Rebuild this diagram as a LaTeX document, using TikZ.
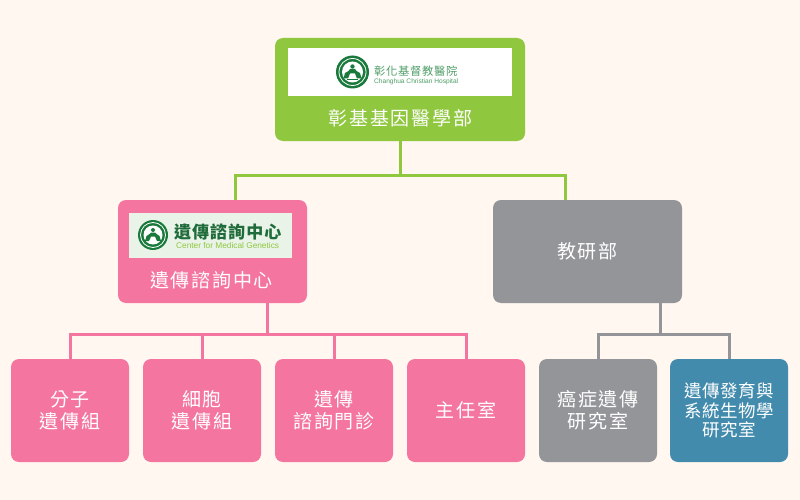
\documentclass[tikz,border=0pt]{standalone}
\usepackage{fontspec}
\setmainfont{Liberation Sans}
\newfontfamily\cjk[LetterSpace=9]{Noto Sans CJK TC}
\newfontfamily\cjkteal[LetterSpace=3]{Noto Sans CJK TC}
\newfontfamily\cjklogo[LetterSpace=6]{Noto Sans CJK TC}
\definecolor{bgc}{HTML}{FFF7F0}
\definecolor{greenc}{HTML}{8FC73E}
\definecolor{pinkc}{HTML}{F476A0}
\definecolor{grayc}{HTML}{939598}
\definecolor{tealc}{HTML}{428BAD}
\definecolor{logod}{HTML}{1A7A3C}
\definecolor{logot}{HTML}{4E9E68}
\definecolor{logob}{HTML}{1F6B3A}
\definecolor{logopale}{HTML}{E9F3E8}
\tikzset{
  x=1pt,y=-1pt,
  box/.style={rectangle,inner sep=0pt,rounded corners=8pt,text=white,align=center,font=\cjk\fontsize{19}{22}\selectfont},
  big/.style={box,minimum width=189pt,minimum height=103pt},
  small/.style={box,minimum width=118pt,minimum height=103pt},
  conn/.style={line width=3pt},
  label/.style={text=white,inner sep=0pt,font=\cjk\fontsize{19}{22}\selectfont},
  logobox/.style={rectangle,inner sep=0pt},
  logoring/.style={circle,inner sep=0pt,fill=logod},
  logotxt/.style={inner sep=0pt,anchor=west},
}
\begin{document}
\begin{tikzpicture}
\useasboundingbox (0,0) rectangle (800,500);
\fill[bgc] (0,0) rectangle (800,500);
\coordinate (jtop) at (400,175);
\coordinate (jp) at (235,200);
\coordinate (jg) at (565,200);
\coordinate (jpink) at (267,334);
\coordinate (jgray) at (660,334);
\node[box,fill=greenc,minimum width=250pt,minimum height=103pt] (top) at (400,89.5) {};
\node[big,fill=pinkc] (center) at (212.5,251.5) {};
\node[big,fill=grayc] (edu) at (587.5,251.5) {教研部};
\node[small,fill=pinkc] (c1) at (70,410.5) {分子\\遺傳組};
\node[small,fill=pinkc] (c2) at (202,410.5) {細胞\\遺傳組};
\node[small,fill=pinkc] (c3) at (334,410.5) {遺傳\\諮詢門診};
\node[small,fill=pinkc] (c4) at (466,410.5) {主任室};
\node[small,fill=grayc] (g1) at (598,410.5) {癌症遺傳\\研究室};
\node[small,fill=tealc,font=\cjkteal\fontsize{17.5}{19.5}\selectfont] (g2) at (729,410.5) {遺傳發育與\\系統生物學\\研究室};
\draw[conn,greenc] (top.south) -- (jtop) -| (jp);
\draw[conn,greenc] (jtop) -| (jg);
\draw[conn,pinkc] (center.south -| jpink) -- (jpink);
\draw[conn,pinkc] (jpink) -| (c1.north);
\draw[conn,pinkc] (jpink -| c2.north) -- (c2.north);
\draw[conn,pinkc] (jpink) -| (c3.north);
\draw[conn,pinkc] (jpink) -| (c4.north);
\draw[conn,grayc] (edu.south -| jgray) -- (jgray);
\draw[conn,grayc] (jgray) -| (g1.north);
\draw[conn,grayc] (jgray) -| (g2.north);
% top logo
\node[logobox,fill=white,minimum width=224pt,minimum height=48pt] (toplogo) at (400,72) {};
\node[logoring,minimum size=33pt] (tl1) at (352.5,72) {};
\node[circle,inner sep=0pt,draw=white,line width=.8pt,minimum size=27pt] (tlr) at (352.5,72) {};
\node[circle,inner sep=0pt,fill=white,minimum size=21pt] (tl2) at (352.5,72) {};
\fill[logod] (352.5,66.5) circle (2.2);
\fill[logod] (343.5,78.5) -- (345,73) -- (348.5,71) -- (350,69) -- (355,69) -- (356.5,71) -- (360,73) -- (361.5,78.5) -- (357,78.5) -- (355,73.5) -- (350,73.5) -- (348,78.5) -- cycle;
\fill[logod] (347,79) rectangle (358,80.5);
\node[logotxt,text=logot,font=\cjklogo\fontsize{11.3}{11.3}\selectfont] (tlt) at (374,71) {彰化基督教醫院};
\node[logotxt,text=logot,font=\fontsize{6.6}{6.6}\selectfont] (tle) at (374,81.5) {Changhua Christian Hospital};
\node[label] (toplabel) at (400.5,118) {彰基基因醫學部};
% centre logo
\node[logobox,fill=logopale,minimum width=163pt,minimum height=45pt] (ctrlogo) at (210.5,235.5) {};
\node[logoring,minimum size=30pt] (cl1) at (153,235) {};
\node[circle,inner sep=0pt,draw=white,line width=.8pt,minimum size=25pt] (clr) at (153,235) {};
\node[circle,inner sep=0pt,fill=white,minimum size=19pt] (cl2) at (153,235) {};
\fill[logod] (153,230) circle (2);
\fill[logod] (145,241) -- (146.5,236) -- (149.5,234) -- (151,232.5) -- (155,232.5) -- (156.5,234) -- (159.5,236) -- (161,241) -- (157,241) -- (155,236.5) -- (151,236.5) -- (149,241) -- cycle;
\node[logotxt,text=logob,font=\cjklogo\bfseries\fontsize{17}{17}\selectfont] (clt) at (174,232) {遺傳諮詢中心};
\node[logotxt,text=greenc,font=\fontsize{8.3}{8.3}\selectfont] (cle) at (176,246) {Center for Medical Genetics};
\node[label] (ctrlabel) at (211.5,280) {遺傳諮詢中心};
\end{tikzpicture}
\end{document}
